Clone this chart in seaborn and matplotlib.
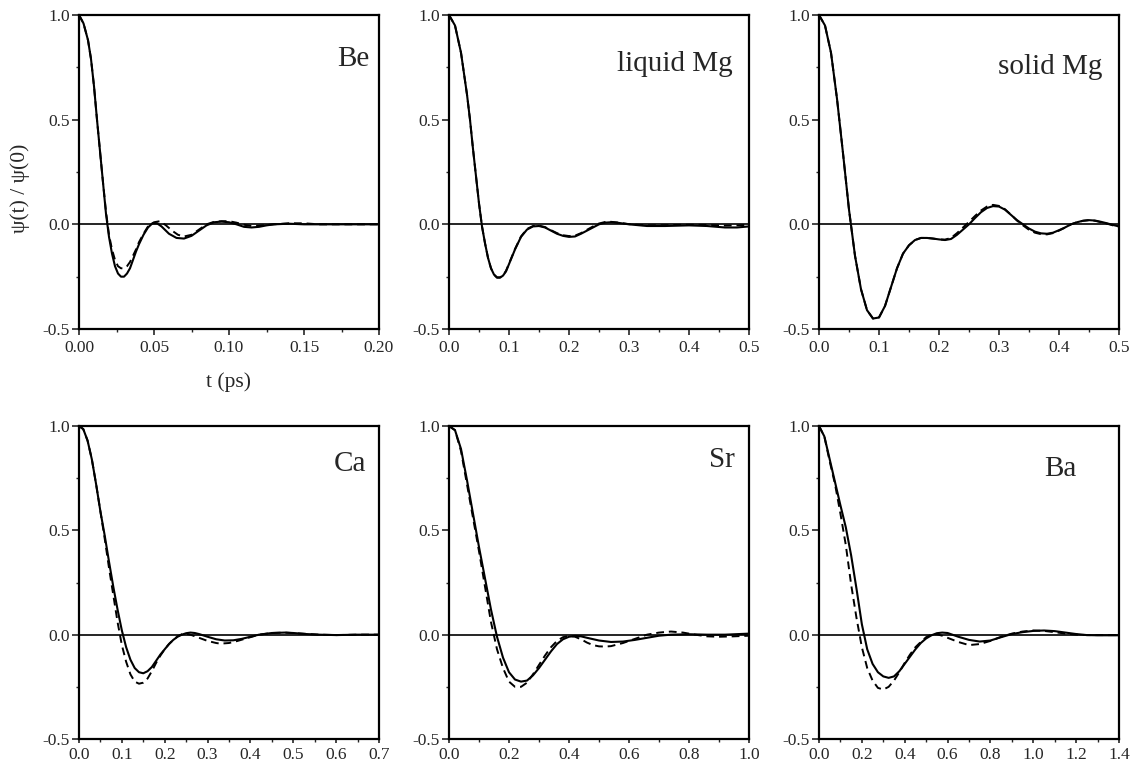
import numpy as np
import pandas as pd
import matplotlib
matplotlib.use("Agg")
import matplotlib.pyplot as plt
from matplotlib.ticker import MultipleLocator, FixedLocator, FixedFormatter
import seaborn as sns

# ---------------- data ----------------
panels = ["Be", "liquid Mg", "solid Mg", "Ca", "Sr", "Ba"]

be_t_solid = [0, 0.003, 0.006, 0.008, 0.010, 0.012, 0.014, 0.016, 0.018, 0.020, 0.022, 0.024, 0.026, 0.028,
              0.030, 0.032, 0.034, 0.036, 0.038, 0.040, 0.043, 0.046, 0.049, 0.052, 0.055, 0.060, 0.065, 0.070,
              0.075, 0.080, 0.085, 0.090, 0.095, 0.100, 0.105, 0.110, 0.115, 0.120, 0.125, 0.130, 0.14, 0.15,
              0.16, 0.20]
be_v_solid = [1.0, 0.96, 0.88, 0.79, 0.66, 0.50, 0.35, 0.20, 0.05, -0.06, -0.14, -0.20, -0.235, -0.25,
              -0.25, -0.235, -0.21, -0.17, -0.13, -0.095, -0.05, -0.015, 0.005, 0.005, -0.01, -0.045, -0.065, -0.068,
              -0.055, -0.03, -0.005, 0.01, 0.013, 0.01, 0.0, -0.012, -0.015, -0.012, -0.005, 0.0, 0.003, 0.0,
              0.0, 0.0]
be_t_dash = [0, 0.003, 0.006, 0.008, 0.010, 0.012, 0.014, 0.016, 0.018, 0.020, 0.022, 0.024, 0.026, 0.028,
             0.030, 0.032, 0.034, 0.036, 0.038, 0.040, 0.043, 0.046, 0.050, 0.054, 0.058, 0.062, 0.066, 0.070,
             0.075, 0.080, 0.085, 0.090, 0.095, 0.100, 0.105, 0.110, 0.115, 0.120, 0.130, 0.14, 0.15, 0.16, 0.20]
be_v_dash = [1.0, 0.96, 0.88, 0.79, 0.66, 0.50, 0.35, 0.20, 0.06, -0.05, -0.12, -0.17, -0.20, -0.21,
             -0.21, -0.20, -0.18, -0.15, -0.12, -0.085, -0.045, -0.01, 0.01, 0.015, -0.005, -0.03, -0.05, -0.058,
             -0.05, -0.025, 0.0, 0.012, 0.015, 0.015, 0.008, -0.002, -0.008, -0.006, 0.0, 0.005, 0.005, 0.0, 0.0]

lmg_t = [0, 0.01, 0.02, 0.03, 0.035, 0.04, 0.045, 0.05, 0.055, 0.06, 0.065, 0.07, 0.075, 0.08, 0.085, 0.09,
         0.095, 0.10, 0.11, 0.12, 0.13, 0.14, 0.15, 0.16, 0.17, 0.18, 0.19, 0.20, 0.21, 0.22, 0.23, 0.24, 0.25,
         0.26, 0.27, 0.28, 0.30, 0.33, 0.36, 0.40, 0.43, 0.46, 0.48, 0.50]
lmg_v_solid = [1.0, 0.95, 0.82, 0.62, 0.50, 0.36, 0.23, 0.10, -0.01, -0.09, -0.16, -0.21, -0.24, -0.255, -0.255,
               -0.245, -0.225, -0.19, -0.12, -0.06, -0.025, -0.01, -0.008, -0.015, -0.03, -0.045, -0.055, -0.06,
               -0.058, -0.045, -0.03, -0.015, 0.0, 0.008, 0.01, 0.008, 0.0, -0.008, -0.008, -0.005, -0.008, -0.015,
               -0.015, -0.01]
lmg_v_dash = [1.0, 0.95, 0.82, 0.62, 0.50, 0.36, 0.23, 0.10, -0.01, -0.09, -0.16, -0.21, -0.24, -0.253, -0.253,
              -0.243, -0.222, -0.188, -0.118, -0.058, -0.022, -0.008, -0.006, -0.013, -0.028, -0.042, -0.052, -0.056,
              -0.054, -0.042, -0.026, -0.01, 0.004, 0.011, 0.012, 0.009, 0.001, -0.005, -0.004, -0.002, -0.003, -0.006,
              -0.005, -0.002]

smg_t = [0, 0.01, 0.02, 0.03, 0.04, 0.05, 0.06, 0.07, 0.08, 0.09, 0.10, 0.11, 0.12, 0.13, 0.14, 0.15, 0.16,
         0.17, 0.18, 0.19, 0.20, 0.21, 0.22, 0.23, 0.24, 0.25, 0.26, 0.27, 0.28, 0.29, 0.30, 0.31, 0.32, 0.33,
         0.34, 0.35, 0.36, 0.37, 0.38, 0.39, 0.40, 0.41, 0.42, 0.43, 0.44, 0.45, 0.46, 0.47, 0.48, 0.49, 0.50]
smg_v_solid = [1.0, 0.95, 0.82, 0.60, 0.34, 0.07, -0.15, -0.31, -0.41, -0.45, -0.445, -0.39, -0.30, -0.21, -0.14,
               -0.10, -0.075, -0.065, -0.065, -0.068, -0.072, -0.075, -0.07, -0.05, -0.025, 0.0, 0.03, 0.058, 0.078,
               0.087, 0.085, 0.07, 0.045, 0.02, 0.0, -0.02, -0.035, -0.043, -0.045, -0.04, -0.028, -0.015, 0.0,
               0.01, 0.017, 0.02, 0.018, 0.012, 0.005, -0.003, -0.01]
smg_v_dash = [1.0, 0.95, 0.82, 0.60, 0.34, 0.07, -0.15, -0.31, -0.41, -0.45, -0.445, -0.39, -0.30, -0.21, -0.14,
              -0.10, -0.075, -0.065, -0.065, -0.068, -0.072, -0.073, -0.065, -0.042, -0.015, 0.012, 0.04, 0.066,
              0.085, 0.093, 0.088, 0.072, 0.046, 0.018, -0.005, -0.026, -0.04, -0.047, -0.048, -0.042, -0.03,
              -0.016, 0.0, 0.01, 0.017, 0.02, 0.017, 0.01, 0.003, -0.005, -0.012]

ca_t_solid = [0, 0.01, 0.02, 0.03, 0.04, 0.05, 0.06, 0.07, 0.08, 0.09, 0.10, 0.11, 0.12, 0.13, 0.14, 0.15, 0.16,
              0.17, 0.18, 0.19, 0.20, 0.21, 0.22, 0.23, 0.24, 0.25, 0.26, 0.27, 0.28, 0.30, 0.32, 0.34, 0.36, 0.38,
              0.40, 0.42, 0.45, 0.48, 0.50, 0.53, 0.56, 0.60, 0.65, 0.70]
ca_v_solid = [1.0, 0.985, 0.93, 0.84, 0.72, 0.59, 0.475, 0.35, 0.23, 0.12, 0.02, -0.06, -0.12, -0.16, -0.18,
              -0.185, -0.175, -0.155, -0.125, -0.095, -0.07, -0.045, -0.025, -0.01, 0.0, 0.007, 0.01, 0.008, 0.003,
              -0.01, -0.022, -0.028, -0.027, -0.02, -0.01, 0.0, 0.008, 0.01, 0.008, 0.003, 0.0, -0.002, 0.0, 0.0]
ca_t_dash = [0, 0.01, 0.02, 0.03, 0.04, 0.05, 0.06, 0.07, 0.08, 0.09, 0.10, 0.11, 0.12, 0.13, 0.14, 0.15, 0.16,
             0.17, 0.18, 0.19, 0.20, 0.21, 0.22, 0.23, 0.24, 0.25, 0.26, 0.28, 0.30, 0.32, 0.33, 0.35, 0.37, 0.40,
             0.42, 0.45, 0.48, 0.52, 0.56, 0.60, 0.65, 0.70]
ca_v_dash = [1.0, 0.985, 0.93, 0.84, 0.72, 0.59, 0.46, 0.32, 0.19, 0.06, -0.05, -0.13, -0.19, -0.225, -0.235,
             -0.23, -0.21, -0.175, -0.135, -0.10, -0.07, -0.045, -0.025, -0.008, 0.002, 0.004, 0.0, -0.015, -0.03,
             -0.04, -0.043, -0.04, -0.03, -0.012, 0.0, 0.008, 0.01, 0.005, 0.0, -0.002, 0.0, 0.0]

sr_t_solid = [0, 0.02, 0.04, 0.06, 0.08, 0.10, 0.12, 0.14, 0.16, 0.18, 0.20, 0.22, 0.24, 0.26, 0.28, 0.30, 0.32,
              0.34, 0.36, 0.38, 0.40, 0.42, 0.44, 0.46, 0.50, 0.54, 0.58, 0.62, 0.66, 0.70, 0.74, 0.80, 0.86, 0.92,
              1.0]
sr_v_solid = [1.0, 0.98, 0.89, 0.74, 0.58, 0.42, 0.27, 0.12, -0.01, -0.11, -0.18, -0.215, -0.225, -0.22, -0.195,
              -0.16, -0.12, -0.08, -0.045, -0.022, -0.01, -0.006, -0.008, -0.015, -0.028, -0.035, -0.033, -0.025,
              -0.015, -0.005, 0.0, 0.002, 0.0, 0.0, 0.005]
sr_t_dash = [0, 0.02, 0.04, 0.06, 0.08, 0.10, 0.12, 0.14, 0.16, 0.18, 0.20, 0.22, 0.24, 0.26, 0.28, 0.30, 0.32,
             0.34, 0.36, 0.38, 0.40, 0.42, 0.44, 0.46, 0.48, 0.50, 0.52, 0.54, 0.58, 0.62, 0.66, 0.70, 0.74, 0.78,
             0.82, 0.86, 0.90, 0.95, 1.0]
sr_v_dash = [1.0, 0.98, 0.88, 0.72, 0.56, 0.40, 0.23, 0.06, -0.07, -0.16, -0.225, -0.25, -0.25, -0.23, -0.19,
             -0.145, -0.10, -0.06, -0.03, -0.012, -0.006, -0.01, -0.022, -0.038, -0.05, -0.056, -0.057, -0.055,
             -0.04, -0.02, 0.0, 0.01, 0.015, 0.01, 0.0, -0.008, -0.01, -0.008, -0.005]

ba_t = [0, 0.025, 0.05, 0.075, 0.10, 0.125, 0.15, 0.175, 0.20, 0.225, 0.25, 0.275, 0.30, 0.325, 0.35, 0.375,
        0.40, 0.425, 0.45, 0.475, 0.50, 0.525, 0.55, 0.575, 0.60, 0.65, 0.70, 0.75, 0.80, 0.85, 0.90, 0.95, 1.00,
        1.05, 1.10, 1.15, 1.20, 1.25, 1.30, 1.40]
ba_v_solid = [1.0, 0.95, 0.84, 0.73, 0.62, 0.515, 0.38, 0.22, 0.05, -0.07, -0.14, -0.18, -0.2, -0.207, -0.2,
              -0.175, -0.14, -0.105, -0.07, -0.04, -0.018, -0.003, 0.007, 0.01, 0.008, -0.01, -0.025, -0.033,
              -0.028, -0.012, 0.003, 0.012, 0.018, 0.02, 0.017, 0.01, 0.003, -0.002, -0.003, -0.003]
ba_v_dash = [1.0, 0.95, 0.83, 0.72, 0.58, 0.43, 0.24, 0.08, -0.06, -0.16, -0.22, -0.255, -0.263, -0.25, -0.22,
             -0.18, -0.135, -0.095, -0.06, -0.035, -0.012, 0.0, 0.002, -0.005, -0.015, -0.035, -0.05, -0.045,
             -0.03, -0.01, 0.005, 0.015, 0.02, 0.018, 0.012, 0.005, 0.0, -0.002, -0.002, -0.002]

solid_t = [be_t_solid, lmg_t, smg_t, ca_t_solid, sr_t_solid, ba_t]
solid_v = [be_v_solid, lmg_v_solid, smg_v_solid, ca_v_solid, sr_v_solid, ba_v_solid]
dash_t = [be_t_dash, lmg_t, smg_t, ca_t_dash, sr_t_dash, ba_t]
dash_v = [be_v_dash, lmg_v_dash, smg_v_dash, ca_v_dash, sr_v_dash, ba_v_dash]

x_max = [0.20, 0.5, 0.5, 0.7, 1.0, 1.4]
x_major = [
    ["0.00", "0.05", "0.10", "0.15", "0.20"],
    ["0.0", "0.1", "0.2", "0.3", "0.4", "0.5"],
    ["0.0", "0.1", "0.2", "0.3", "0.4", "0.5"],
    ["0.0", "0.1", "0.2", "0.3", "0.4", "0.5", "0.6", "0.7"],
    ["0.0", "0.2", "0.4", "0.6", "0.8", "1.0"],
    ["0.0", "0.2", "0.4", "0.6", "0.8", "1.0", "1.2", "1.4"],
]
y_labels = ["-0.5", "0.0", "0.5", "1.0"]

# label placement (axes fraction, right-aligned, baseline)
label_pos = [(0.967, 0.838), (0.947, 0.822), (0.943, 0.812), (0.957, 0.856), (0.953, 0.869), (0.86, 0.840)]

# ---------------- style ----------------
sns.set_style("ticks")
serif = ["Liberation Serif", "DejaVu Serif"]
plt.rcParams["font.family"] = serif
plt.rcParams["axes.linewidth"] = 1.6
plt.rcParams["xtick.direction"] = "out"
plt.rcParams["ytick.direction"] = "out"

W, H = 1135, 764
fig = plt.figure(figsize=(W / 100, H / 100), dpi=100)

lefts = [79, 449, 819]
width = 300
rows = [(15, 329), (426, 739)]

for i, name in enumerate(panels):
    r, c = divmod(i, 3)
    top, bot = rows[r]
    l = lefts[c]
    ax = fig.add_axes([l / W, 1 - bot / H, width / W, (bot - top) / H])

    ax.axhline(0, color="black", lw=1.2, zorder=1)
    dfs = pd.DataFrame({"t": solid_t[i], "v": solid_v[i]})
    dfd = pd.DataFrame({"t": dash_t[i], "v": dash_v[i]})
    sns.lineplot(data=dfd, x="t", y="v", ax=ax, color="black", lw=1.4,
                 linestyle=(0, (4, 2.5)), estimator=None, sort=False, zorder=2)
    sns.lineplot(data=dfs, x="t", y="v", ax=ax, color="black", lw=1.5,
                 estimator=None, sort=False, zorder=3)

    ax.set_xlim(0, x_max[i])
    ax.set_ylim(-0.5, 1.0)
    xt = [float(s) for s in x_major[i]]
    ax.xaxis.set_major_locator(FixedLocator(xt))
    ax.xaxis.set_major_formatter(FixedFormatter(x_major[i]))
    step = xt[1] - xt[0]
    ax.xaxis.set_minor_locator(MultipleLocator(step / 2))
    ax.yaxis.set_major_locator(FixedLocator([-0.5, 0.0, 0.5, 1.0]))
    ax.yaxis.set_major_formatter(FixedFormatter(y_labels))
    ax.yaxis.set_minor_locator(MultipleLocator(0.25))
    if r == 0:
        ax.tick_params(axis="x", which="major", length=4.5, width=1.2, labelsize=12.5, pad=3.5)
        ax.tick_params(axis="x", which="minor", length=2.2, width=1.0)
    else:
        ax.tick_params(axis="x", which="major", length=3.2, width=1.2, labelsize=12.5, pad=2.5)
        ax.tick_params(axis="x", which="minor", length=2.0, width=1.0)
    ax.tick_params(axis="y", which="major", length=5, width=1.2, labelsize=12.5, pad=1.5)
    ax.tick_params(axis="y", which="minor", length=2.2, width=1.0)
    ax.tick_params(top=False, right=False, which="both")
    for s in ax.spines.values():
        s.set_visible(True)
        s.set_color("black")
    ax.set_xlabel("")
    ax.set_ylabel("")
    lx, ly = label_pos[i]
    ax.text(lx, ly, name, transform=ax.transAxes, ha="right", va="baseline",
            fontsize=21, family=serif)

fig.text(20 / W, 1 - 188 / H, "ψ(t) / ψ(0)", rotation=90, ha="center", va="center",
         fontsize=15.5, family=serif)
fig.text(229 / W, 1 - 382 / H, "t (ps)", ha="center", va="center", fontsize=15.5, family=serif)

fig.savefig("out.png", dpi=100, facecolor="white")
